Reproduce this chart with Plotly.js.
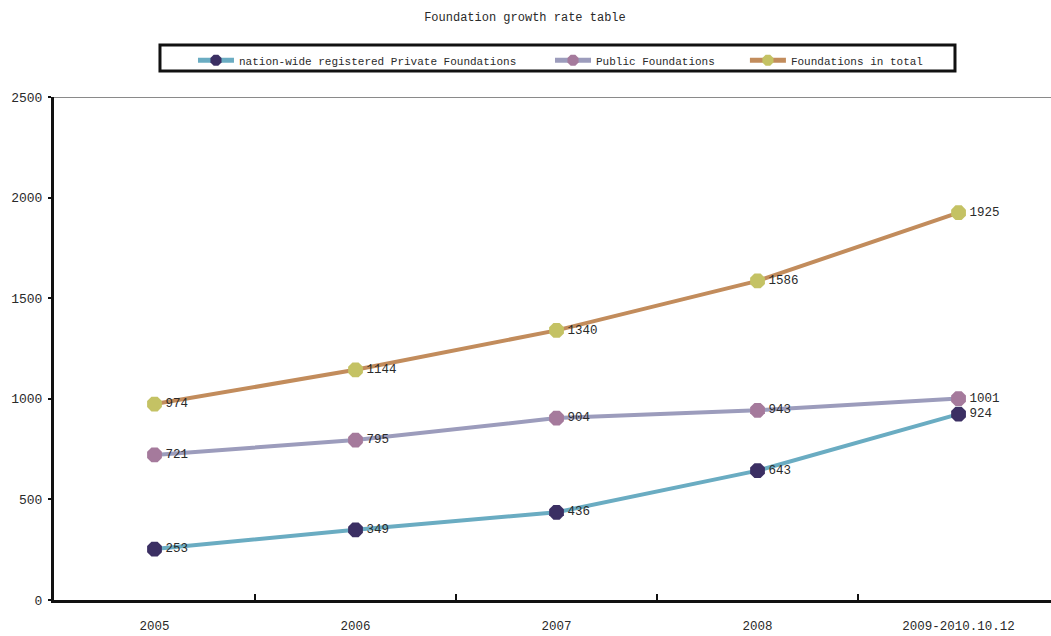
<!DOCTYPE html>
<html>
<head>
<meta charset="utf-8">
<script src="https://cdn.plot.ly/plotly-3.0.1.min.js"></script>
<style>
  html, body { margin: 0; padding: 0; background: #ffffff; overflow: hidden; }
  #chart { width: 1051px; height: 636px; }
</style>
</head>
<body>
<div id="chart"></div>
<script>
// Categories along the x axis
const periods = ['2005', '2006', '2007', '2008', '2009-2010.10.12'];

// Number of foundations per period
const privateFoundations = [253, 349, 436, 643, 924];
const publicFoundations = [721, 795, 904, 943, 1001];
const totalFoundations = [974, 1144, 1340, 1586, 1925];

const seriesNames = [
  'nation-wide registered Private Foundations',
  'Public Foundations',
  'Foundations in total'
];

const seriesValues = [privateFoundations, publicFoundations, totalFoundations];
const lineColors = ['#6aacc2', '#9c9cbc', '#c28c5c'];
const markerColors = ['#3b2f63', '#a57a9c', '#c4c264'];
const legendIds = ['legend', 'legend2', 'legend3'];

const baseFont = 'Liberation Mono, DejaVu Sans Mono, monospace';
const textColor = '#2a2a2a';

// One line per series, with value labels; each series has its own legend box
const traces = seriesValues.map((values, i) => ({
  type: 'scatter',
  mode: 'lines+markers+text',
  name: seriesNames[i],
  x: periods,
  y: values,
  text: values.map(String),
  textposition: 'middle right',
  textfont: { family: baseFont, size: 12.5, color: textColor },
  line: { color: lineColors[i], width: 4 },
  marker: { symbol: 'octagon', size: 16, color: markerColors[i], line: { width: 0 } },
  cliponaxis: false,
  legend: legendIds[i]
}));

function legendAt(x) {
  return {
    orientation: 'h',
    x: x,
    xanchor: 'left',
    y: 1.073,
    yanchor: 'middle',
    bgcolor: 'rgba(0,0,0,0)',
    borderwidth: 0,
    itemwidth: 36,
    itemsizing: 'constant',
    itemclick: false,
    font: { family: baseFont, size: 11, color: textColor }
  };
}

const layout = {
  width: 1051,
  height: 636,
  margin: { l: 54, r: 0, t: 97, b: 36 },
  paper_bgcolor: '#ffffff',
  plot_bgcolor: '#ffffff',
  font: { family: baseFont, size: 12, color: textColor },
  title: {
    text: 'Foundation growth rate table',
    x: 0.4995,
    xanchor: 'center',
    y: 0.973,
    yanchor: 'middle',
    font: { family: baseFont, size: 12, color: textColor }
  },
  showlegend: true,
  legend: legendAt(0.1394),
  legend2: legendAt(0.4975),
  legend3: legendAt(0.693),
  xaxis: {
    type: 'category',
    range: [-0.5, 4.46],
    showgrid: false,
    zeroline: false,
    showline: true,
    linecolor: '#111111',
    linewidth: 3,
    ticks: 'inside',
    tickson: 'boundaries',
    ticklen: 6,
    tickwidth: 2,
    tickcolor: '#111111',
    tickfont: { family: baseFont, size: 12.5, color: textColor },
    ticklabelstandoff: 12
  },
  yaxis: {
    range: [0, 2500],
    tickvals: [0, 500, 1000, 1500, 2000, 2500],
    showgrid: false,
    zeroline: false,
    showline: true,
    linecolor: '#111111',
    linewidth: 3,
    ticks: 'outside',
    ticklen: 3,
    tickwidth: 2,
    tickcolor: '#111111',
    tickfont: { family: baseFont, size: 13, color: textColor },
    ticklabelstandoff: 3
  },
  shapes: [
    {
      type: 'line', xref: 'paper', yref: 'y',
      x0: 0, x1: 1, y0: 2500, y1: 2500,
      line: { color: '#8a8a8a', width: 2 }, layer: 'below'
    },
    {
      type: 'rect', xref: 'paper', yref: 'paper',
      x0: 0.1063, x1: 0.9037, y0: 1.0517, y1: 1.1034,
      line: { color: '#111111', width: 3 }, fillcolor: 'rgba(0,0,0,0)'
    }
  ]
};

Plotly.newPlot('chart', traces, layout, { displayModeBar: false, staticPlot: true });
</script>
</body>
</html>
